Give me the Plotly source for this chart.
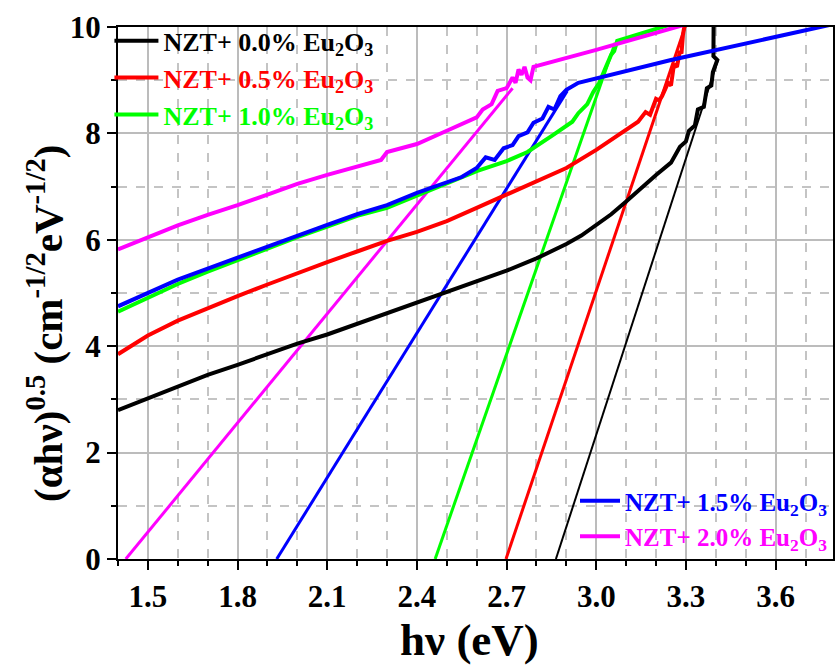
import plotly.graph_objects as go

# ---------------- data ----------------
labels = ["NZT+ 0.0% Eu<sub>2</sub>O<sub>3</sub>",
          "NZT+ 0.5% Eu<sub>2</sub>O<sub>3</sub>",
          "NZT+ 1.0% Eu<sub>2</sub>O<sub>3</sub>",
          "NZT+ 1.5% Eu<sub>2</sub>O<sub>3</sub>",
          "NZT+ 2.0% Eu<sub>2</sub>O<sub>3</sub>"]
colors = ["#000000", "#ff0000", "#00ff00", "#0000ff", "#ff00ff"]

x_00 = [1.40, 1.50, 1.60, 1.70, 1.80, 1.90, 2.00, 2.10, 2.20, 2.30, 2.40, 2.50, 2.60, 2.70,
        2.80, 2.90, 2.95, 3.00, 3.05, 3.10, 3.15, 3.20, 3.25, 3.28, 3.30, 3.31, 3.33, 3.34,
        3.36, 3.37, 3.385, 3.39, 3.405, 3.392, 3.393]
y_00 = [2.80, 3.02, 3.25, 3.46, 3.65, 3.85, 4.05, 4.22, 4.42, 4.62, 4.82, 5.02, 5.22, 5.42,
        5.65, 5.92, 6.08, 6.28, 6.48, 6.72, 6.98, 7.22, 7.45, 7.75, 7.85, 8.05, 8.15, 8.45,
        8.50, 8.85, 8.90, 9.15, 9.38, 9.45, 10.5]

x_05 = [1.40, 1.50, 1.60, 1.70, 1.80, 1.90, 2.00, 2.10, 2.20, 2.30, 2.40, 2.50, 2.60, 2.70,
        2.80, 2.90, 3.00, 3.10, 3.14, 3.165, 3.18, 3.20, 3.21, 3.22, 3.24, 3.25, 3.26, 3.27,
        3.28, 3.285, 3.29, 3.30]
y_05 = [3.85, 4.20, 4.48, 4.72, 4.94, 5.16, 5.38, 5.58, 5.78, 5.98, 6.15, 6.35, 6.60, 6.85,
        7.08, 7.35, 7.69, 8.08, 8.22, 8.40, 8.35, 8.65, 8.62, 8.70, 8.95, 8.90, 9.30, 9.25,
        9.55, 9.50, 9.85, 10.2]

x_10 = [1.40, 1.50, 1.60, 1.70, 1.80, 1.90, 2.00, 2.10, 2.20, 2.30, 2.40, 2.50, 2.60, 2.70,
        2.77, 2.85, 2.90, 2.92, 2.94, 2.97, 2.99, 3.01, 3.03, 3.05, 3.06, 3.07, 3.25]
y_10 = [4.65, 4.92, 5.17, 5.40, 5.62, 5.84, 6.05, 6.25, 6.45, 6.60, 6.83, 7.05, 7.29, 7.48,
        7.65, 7.95, 8.15, 8.22, 8.38, 8.55, 8.78, 8.95, 9.22, 9.48, 9.55, 9.74, 10.05]

x_15 = [1.40, 1.50, 1.60, 1.70, 1.80, 1.90, 2.00, 2.10, 2.20, 2.30, 2.40, 2.50, 2.55, 2.60,
        2.63, 2.66, 2.69, 2.72, 2.74, 2.77, 2.79, 2.82, 2.84, 2.86, 2.88, 2.90, 2.94, 3.25, 3.79]
y_15 = [4.75, 5.00, 5.25, 5.46, 5.67, 5.88, 6.08, 6.28, 6.48, 6.65, 6.88, 7.08, 7.18, 7.35,
        7.55, 7.50, 7.72, 7.78, 7.95, 8.02, 8.20, 8.28, 8.50, 8.45, 8.70, 8.82, 8.95, 9.38, 10.05]

x_20 = [1.40, 1.50, 1.60, 1.70, 1.80, 1.90, 2.00, 2.10, 2.20, 2.28, 2.30, 2.40, 2.50, 2.55,
        2.60, 2.62, 2.65, 2.67, 2.70, 2.72, 2.73, 2.74, 2.75, 2.76, 2.77, 2.78, 2.79, 3.00, 3.30]
y_20 = [5.82, 6.05, 6.27, 6.47, 6.65, 6.85, 7.05, 7.22, 7.38, 7.50, 7.65, 7.80, 8.05, 8.18,
        8.30, 8.45, 8.55, 8.80, 8.85, 9.05, 8.95, 9.20, 9.10, 9.25, 9.05, 9.00, 9.25, 9.57, 10.05]

# linear-fit tangent lines (two end points each)
tan_x = [[2.865, 3.407], [2.698, 3.300], [2.461, 3.063], [1.931, 2.903], [1.426, 2.720]]
tan_y = [[0.0, 9.38], [0.0, 10.05], [0.0, 9.70], [0.0, 8.80], [0.0, 8.85]]

series_x = [x_00, x_05, x_10, x_15, x_20]
series_y = [y_00, y_05, y_10, y_15, y_20]
legend_ids = ["legend", "legend", "legend", "legend2", "legend2"]

FONT = "Liberation Serif"

fig = go.Figure()
for i in range(5):
    fig.add_trace(go.Scatter(
        x=tan_x[i], y=tan_y[i], mode="lines", showlegend=False,
        line=dict(color=colors[i], width=2 if i == 0 else 3)))
for i in range(5):
    fig.add_trace(go.Scatter(
        x=series_x[i], y=series_y[i], mode="lines",
        name=f"<span style='color:{colors[i]}'>{labels[i]}</span>",
        legend=legend_ids[i],
        line=dict(color=colors[i], width=4)))

tickfont = dict(family=FONT, size=31, color="black", weight="bold")

fig.update_xaxes(
    range=[1.4, 3.792], tickmode="linear", tick0=1.5, dtick=0.3, tickformat=".1f",
    showline=True, linecolor="black", linewidth=2, mirror=True,
    ticks="outside", ticklen=9, tickwidth=2, tickcolor="black",
    showgrid=True, gridcolor="#bcbcbc", gridwidth=2, zeroline=False,
    tickfont=tickfont,
    minor=dict(tickmode="linear", tick0=1.5, dtick=0.1, ticks="outside", ticklen=5,
               tickwidth=2, tickcolor="black", showgrid=True, gridcolor="#c4c4c4",
               griddash="dash", gridwidth=1.5))
fig.update_yaxes(
    range=[0, 10], tickmode="linear", tick0=0, dtick=2,
    showline=True, linecolor="black", linewidth=2, mirror=True,
    ticks="outside", ticklen=9, tickwidth=2, tickcolor="black",
    showgrid=True, gridcolor="#bcbcbc", gridwidth=2, zeroline=False,
    tickfont=tickfont,
    minor=dict(tickmode="linear", tick0=0, dtick=1, ticks="outside", ticklen=5,
               tickwidth=2, tickcolor="black", showgrid=True, gridcolor="#c4c4c4",
               griddash="dash", gridwidth=1.5))

legend_font = dict(family=FONT, size=26, weight="bold")
fig.update_layout(
    width=837, height=667,
    margin=dict(l=118, r=2, t=27, b=108),
    plot_bgcolor="white", paper_bgcolor="white",
    legend=dict(x=-0.012, y=1.018, xanchor="left", yanchor="top", itemwidth=44,
                bgcolor="rgba(0,0,0,0)", font=legend_font, tracegroupgap=0),
    legend2=dict(x=1.0, y=0.0, xanchor="right", yanchor="bottom", itemwidth=40,
                 bgcolor="rgba(0,0,0,0)", font=dict(family=FONT, size=25, weight="bold"),
                 tracegroupgap=0),
    annotations=[
        dict(text="h\u03bd (eV)", xref="paper", yref="paper", x=0.491, y=-0.153,
             xanchor="center", yanchor="middle",
             showarrow=False, font=dict(family=FONT, size=45, color="black", weight="bold")),
        dict(text="(\u03b1h\u03bd)<sup>0.5</sup> (cm<sup>-1/2</sup>eV<sup>-1/2</sup>)",
             xref="paper", yref="paper", x=-0.102, y=0.442, textangle=-90,
             xanchor="center", yanchor="middle",
             showarrow=False, font=dict(family=FONT, size=41, color="black", weight="bold")),
    ],
)

fig.write_html("out.html")
